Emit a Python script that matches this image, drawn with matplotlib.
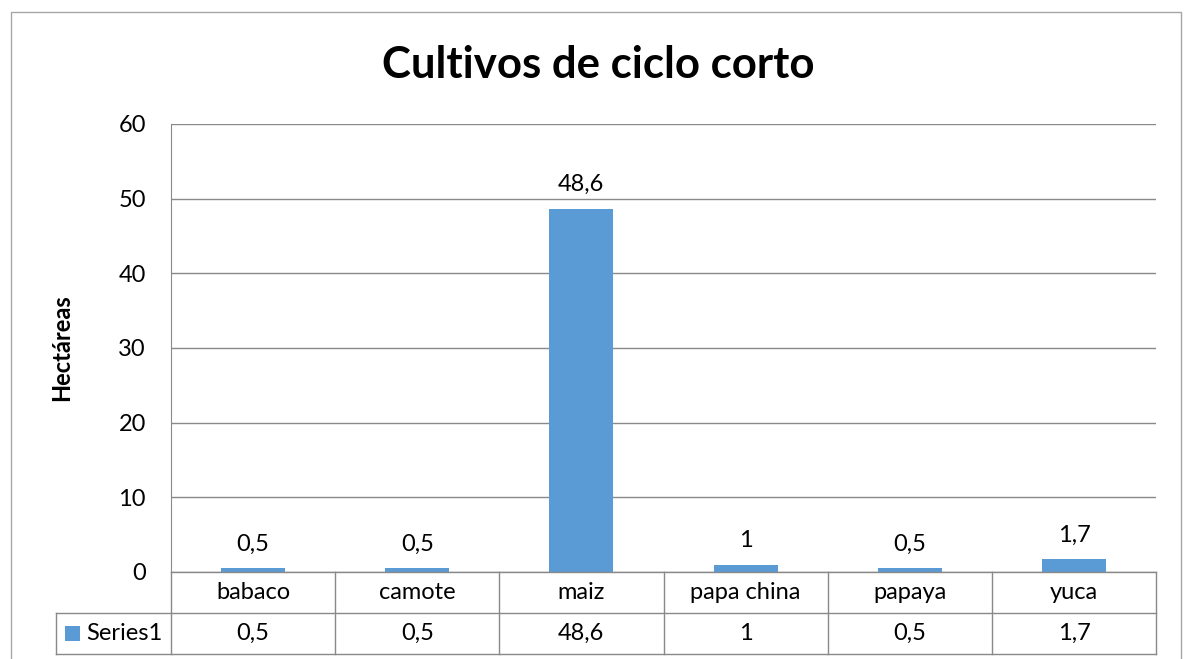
import numpy as np
import matplotlib.pyplot as plt
import matplotlib.transforms as mtransforms
from matplotlib.lines import Line2D
from matplotlib.patches import Rectangle

plt.rcParams['font.family'] = ['Lato', 'DejaVu Sans']

# Datos
cultivos = ['babaco', 'camote', 'maiz', 'papa china', 'papaya', 'yuca']
hectareas = [0.5, 0.5, 48.6, 1, 0.5, 1.7]
serie = 'Series1'
titulo = 'Cultivos de ciclo corto'
eje_y = 'Hectáreas'

W, H = 1186, 659
AZUL = '#5B9BD5'
GRIS = '#898989'
FS = 17


def fx(px):
    return px / W


def fy(py):
    return 1 - py / H


def fmt(v):
    return f'{v:g}'.replace('.', ',')


fig = plt.figure(figsize=(W / 100, H / 100), dpi=100)

# marco exterior del grafico
fig.add_artist(Rectangle((fx(11), fy(700)), fx(1181) - fx(11), fy(12) - fy(700),
                         transform=fig.transFigure, fill=False,
                         edgecolor='#a6a6a6', lw=1))

ax = fig.add_axes([fx(171), fy(572), fx(1156) - fx(171), fy(124) - fy(572)])
x = np.arange(len(cultivos))
ax.bar(x, hectareas, width=0.39, color=AZUL, zorder=3)
ax.set_xlim(-0.5, len(cultivos) - 0.5)
ax.set_ylim(0, 60)
ax.set_yticks(range(0, 61, 10))
ax.set_xticks([])
ax.grid(axis='y', color=GRIS, lw=1)
for s in ['top', 'right', 'bottom']:
    ax.spines[s].set_visible(False)
ax.spines['left'].set_color(GRIS)
ax.tick_params(axis='y', length=0, pad=18, labelsize=FS)

for xi, v in zip(x, hectareas):
    ax.annotate(fmt(v), (xi, v), xytext=(0, 10), textcoords='offset points',
                ha='center', va='bottom', fontsize=FS)

fig.text(fx(598), fy(65), titulo, ha='center', va='center',
         fontsize=31.5, fontweight='bold')
fig.text(fx(62), fy(348), eje_y, ha='center', va='center', rotation=90,
         fontsize=17, fontweight='bold')

# tabla de datos bajo el eje
tr = mtransforms.blended_transform_factory(ax.transData, fig.transFigure)
izq = -0.5
der = len(cultivos) - 0.5
leyenda_izq = -1.2
y0, y1, y2 = fy(572), fy(613), fy(654)

lineas = [
    ([izq, der], [y0, y0]),
    ([leyenda_izq, der], [y1, y1]),
    ([leyenda_izq, der], [y2, y2]),
    ([leyenda_izq, leyenda_izq], [y1, y2]),
]
for i in range(len(cultivos) + 1):
    lineas.append(([i - 0.5, i - 0.5], [y0, y2]))
for xs, ys in lineas:
    fig.add_artist(Line2D(xs, ys, transform=tr, color=GRIS, lw=1))

for xi, c, v in zip(x, cultivos, hectareas):
    fig.text(xi, (y0 + y1) / 2, c, transform=tr, ha='center', va='center',
             fontsize=FS)
    fig.text(xi, (y1 + y2) / 2, fmt(v), transform=tr, ha='center',
             va='center', fontsize=FS)

fig.add_artist(Rectangle((fx(65), fy(641)), fx(80) - fx(65), fy(626) - fy(641),
                         transform=fig.transFigure, color=AZUL, lw=0))
fig.text(fx(86), (y1 + y2) / 2, serie, ha='left', va='center', fontsize=FS)

fig.savefig('out.png', dpi=100)
